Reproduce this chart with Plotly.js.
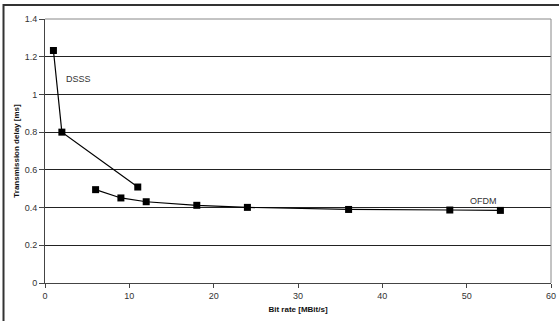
<!DOCTYPE html>
<html><head><meta charset="utf-8">
<script src="https://cdn.plot.ly/plotly-3.0.1.min.js"></script>
<style>html,body{margin:0;padding:0;background:#fff;}#c{width:559px;height:321px;}</style>
</head><body><div id="c"></div>
<script>
const dsssRate = [1, 2, 11];
const dsssDelay = [1.233, 0.80, 0.509];
const ofdmRate = [6, 9, 12, 18, 24, 36, 48, 54];
const ofdmDelay = [0.495, 0.451, 0.431, 0.412, 0.401, 0.390, 0.387, 0.385];
const xTitle = 'Bit rate [MBit/s]';
const yTitle = 'Transmission delay [ms]';

const mk = {symbol: 'square', size: 7, color: '#000'};
const ln = {color: '#000', width: 1.2};
const data = [
  {x: dsssRate, y: dsssDelay, mode: 'lines+markers', marker: mk, line: ln, name: 'DSSS'},
  {x: ofdmRate, y: ofdmDelay, mode: 'lines+markers', marker: mk, line: ln, name: 'OFDM'}
];
const tickFont = {family: 'Liberation Sans, Arial, sans-serif', size: 9, color: '#333'};
const titleFont = {family: 'Liberation Sans, Arial, sans-serif', size: 8, color: '#111', weight: 'bold'};
const layout = {
  width: 559, height: 321,
  margin: {l: 45, r: 8, t: 19, b: 38},
  paper_bgcolor: '#fff', plot_bgcolor: '#fff',
  showlegend: false,
  xaxis: {range: [0, 60], dtick: 10, tick0: 0, showgrid: false, zeroline: false,
    showline: true, linecolor: '#444', linewidth: 1, ticks: 'outside', ticklen: 4, tickcolor: '#444',
    tickfont: tickFont, title: {text: xTitle, font: titleFont, standoff: 6}},
  yaxis: {range: [0, 1.4], dtick: 0.2, tick0: 0, showgrid: true, gridcolor: '#222', gridwidth: 1,
    zeroline: false, showline: true, linecolor: '#444', linewidth: 1, ticks: 'outside', ticklen: 5,
    tickcolor: '#444', tickfont: tickFont, title: {text: yTitle, font: titleFont, standoff: 3}},
  annotations: [
    {x: 4.0, y: 1.083, xref: 'x', yref: 'y', text: 'DSSS', showarrow: false,
      font: {family: 'Liberation Sans, Arial, sans-serif', size: 9, color: '#333'}},
    {x: 52.0, y: 0.433, xref: 'x', yref: 'y', text: 'OFDM', showarrow: false,
      font: {family: 'Liberation Sans, Arial, sans-serif', size: 9, color: '#333'}}
  ],
  shapes: [
    {type: 'line', xref: 'paper', yref: 'paper', x0: 0, x1: 1, y0: 1, y1: 1, line: {color: '#888', width: 1}},
    {type: 'line', xref: 'paper', yref: 'paper', x0: 1, x1: 1, y0: 0, y1: 1, line: {color: '#888', width: 1}},
    {type: 'path', xref: 'paper', yref: 'paper', path: 'M -0.082 -0.3 L -0.082 1.053 L 1.1 1.053',
      line: {color: '#333', width: 2}}
  ]
};
Plotly.newPlot('c', data, layout, {staticPlot: true, displayModeBar: false});
</script></body></html>
